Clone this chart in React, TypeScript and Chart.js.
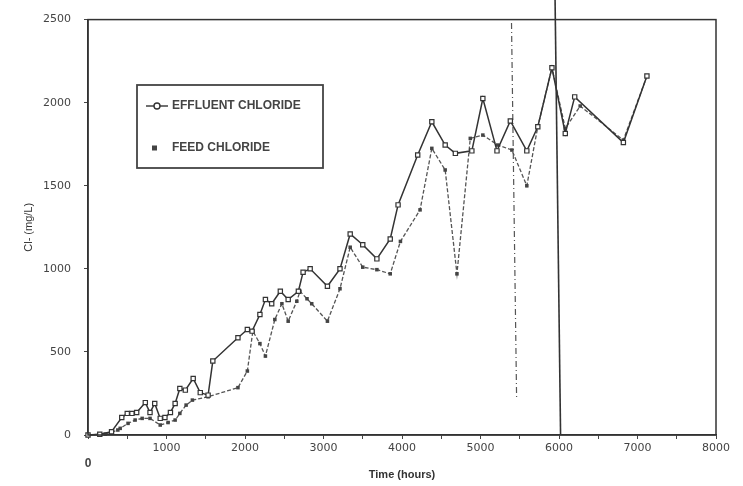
import { useEffect, useRef } from 'react';
import { Chart, registerables } from 'chart.js';

Chart.register(...registerables);

// Effluent chloride (mg/L) against elapsed time (hours)
const effluentHours = [0, 150, 300, 430, 500, 560, 620, 730, 790, 850, 920, 980, 1050, 1110, 1170, 1240, 1340, 1430, 1530, 1590, 1910, 2030, 2090, 2190, 2260, 2340, 2450, 2550, 2680, 2740, 2830, 3050, 3210, 3340, 3500, 3680, 3850, 3950, 4200, 4380, 4550, 4680, 4890, 5030, 5210, 5380, 5590, 5730, 5910, 6080, 6200, 6820, 7120];
const effluentCl = [0, 5, 20, 105, 130, 130, 135, 195, 135, 190, 100, 105, 135, 190, 280, 270, 340, 255, 240, 445, 585, 635, 625, 725, 815, 790, 865, 815, 865, 980, 1000, 895, 1000, 1210, 1145, 1060, 1180, 1385, 1685, 1885, 1745, 1695, 1710, 2025, 1710, 1890, 1710, 1855, 2210, 1815, 2035, 1760, 2160];

// Feed chloride (mg/L)
const feedHours = [0, 220, 380, 410, 510, 600, 690, 790, 920, 1020, 1110, 1170, 1250, 1330, 1530, 1910, 2030, 2100, 2190, 2260, 2380, 2470, 2550, 2660, 2700, 2790, 2850, 3050, 3210, 3340, 3500, 3680, 3850, 3980, 4230, 4380, 4550, 4700, 4870, 5030, 5220, 5400, 5590, 5730, 5910, 6080, 6270, 6820, 7120];
const feedCl = [0, 5, 30, 40, 70, 90, 100, 100, 60, 75, 90, 130, 180, 210, 230, 285, 385, 625, 550, 475, 695, 790, 685, 805, 865, 820, 790, 685, 880, 1130, 1010, 995, 970, 1165, 1355, 1725, 1595, 970, 1785, 1805, 1745, 1715, 1500, 1855, 2210, 1845, 1980, 1775, 2160];

// Vertical event markers
const dashedMarkerHours = [5395, 5460];
const dashedMarkerCl = [2480, 220];
const solidMarkerHours = [5950, 6020];
const solidMarkerCl = [2620, 0];

const seriesLabels = ['EFFLUENT CHLORIDE', 'FEED CHLORIDE'];
const xTitle = 'Time (hours)';
const yTitle = 'Cl- (mg/L)';

const INK = '#333333';

const toPoints = (xs: number[], ys: number[]) => xs.map((x, i) => ({ x, y: ys[i] }));

// Frame around the plot plus the boxed legend
const framePlugin = {
  id: 'frameAndLegend',
  afterDraw(chart: any) {
    const { ctx, chartArea } = chart;
    ctx.save();
    ctx.strokeStyle = INK;
    ctx.lineWidth = 1.5;
    ctx.strokeRect(chartArea.left, chartArea.top, chartArea.right - chartArea.left, chartArea.bottom - chartArea.top);

    // legend box
    const bx = 137, by = 85, bw = 186, bh = 83;
    ctx.lineWidth = 1.8;
    ctx.strokeStyle = '#444';
    ctx.strokeRect(bx, by, bw, bh);

    ctx.font = 'bold 12px "Liberation Sans", Arial, sans-serif';
    ctx.textBaseline = 'middle';
    ctx.textAlign = 'left';

    // effluent symbol: line with open marker
    const y1 = 106;
    ctx.strokeStyle = INK;
    ctx.lineWidth = 1.4;
    ctx.beginPath();
    ctx.moveTo(146, y1);
    ctx.lineTo(168, y1);
    ctx.stroke();
    ctx.fillStyle = '#fff';
    ctx.beginPath();
    ctx.arc(157, y1, 3, 0, Math.PI * 2);
    ctx.fill();
    ctx.stroke();
    ctx.fillStyle = '#444';
    ctx.fillText(chart.data.datasets[0].label, 172, y1);

    // feed symbol: filled marker
    const y2 = 148;
    ctx.fillStyle = '#444';
    ctx.fillRect(152, y2 - 2.5, 5, 5);
    ctx.fillText(chart.data.datasets[1].label, 172, y2);
    ctx.restore();
  },
};

export default function App() {
  const canvasRef = useRef<HTMLCanvasElement | null>(null);

  useEffect(() => {
    document.body.style.margin = '0';
    const canvas = canvasRef.current;
    if (!canvas) return;

    const tickFont = { family: '"DejaVu Sans", sans-serif', size: 11 };

    const chart = new Chart(canvas, {
      type: 'line',
      data: {
        datasets: [
          {
            label: seriesLabels[0],
            data: toPoints(effluentHours, effluentCl),
            borderColor: INK,
            borderWidth: 1.5,
            pointStyle: 'rect',
            pointRadius: 3,
            pointBackgroundColor: '#ffffff',
            pointBorderColor: INK,
            pointBorderWidth: 1.2,
            tension: 0,
          },
          {
            label: seriesLabels[1],
            data: toPoints(feedHours, feedCl),
            borderColor: '#555555',
            borderWidth: 1.3,
            borderDash: [4, 2],
            pointStyle: 'rect',
            pointRadius: 2.5,
            pointBackgroundColor: '#444444',
            pointBorderColor: '#444444',
            pointBorderWidth: 0,
            tension: 0,
          },
          {
            label: 'dashed marker',
            data: toPoints(dashedMarkerHours, dashedMarkerCl),
            borderColor: '#555555',
            borderWidth: 1.2,
            borderDash: [6, 3, 1, 3],
            pointRadius: 0,
          },
          {
            label: 'solid marker',
            data: toPoints(solidMarkerHours, solidMarkerCl),
            borderColor: INK,
            borderWidth: 1.6,
            pointRadius: 0,
          },
        ],
      },
      options: {
        animation: false,
        responsive: false,
        maintainAspectRatio: false,
        clip: false as any,
        layout: { padding: { top: 15, right: 27, bottom: 0, left: 0 } },
        plugins: {
          legend: { display: false },
          tooltip: { enabled: false },
        },
        scales: {
          x: {
            type: 'linear',
            min: 0,
            max: 8000,
            afterFit: (s: any) => { s.height = 51; },
            border: { display: true, color: INK, width: 1.5 },
            grid: { drawOnChartArea: false, drawTicks: true, tickLength: 4, color: '#444' },
            ticks: {
              stepSize: 500,
              autoSkip: false,
              maxRotation: 0,
              padding: 3,
              color: '#444',
              font: (c: any) =>
                c.tick && c.tick.value === 0
                  ? { family: '"Liberation Sans", Arial, sans-serif', size: 12, weight: 'bold' }
                  : tickFont,
              callback: (v: any) => {
                const n = Number(v);
                if (n === 0) return ['', '0'];
                return n % 1000 === 0 ? String(n) : '';
              },
            },
            title: {
              display: true,
              text: xTitle,
              color: INK,
              font: { family: '"Liberation Sans", Arial, sans-serif', size: 11, weight: 'bold' },
              padding: { top: 0, bottom: 4 },
            },
          },
          y: {
            type: 'linear',
            min: 0,
            max: 2500,
            afterFit: (s: any) => { s.width = 88; },
            border: { display: true, color: INK, width: 1.5 },
            grid: { drawOnChartArea: false, drawTicks: true, tickLength: 4, color: '#444' },
            ticks: {
              stepSize: 500,
              padding: 13,
              color: '#444',
              font: tickFont,
              callback: (v: any) => String(Number(v)),
            },
            title: {
              display: true,
              text: yTitle,
              color: INK,
              font: { family: '"Liberation Sans", Arial, sans-serif', size: 11 },
              padding: { top: 22, bottom: 0 },
            },
          },
        },
      },
      plugins: [framePlugin],
    });

    return () => chart.destroy();
  }, []);

  return (
    <div style={{ position: 'absolute', left: 0, top: 0, width: 743, height: 486, background: '#fff' }}>
      <canvas ref={canvasRef} width={743} height={486} style={{ width: 743, height: 486, display: 'block' }} />
    </div>
  );
}
